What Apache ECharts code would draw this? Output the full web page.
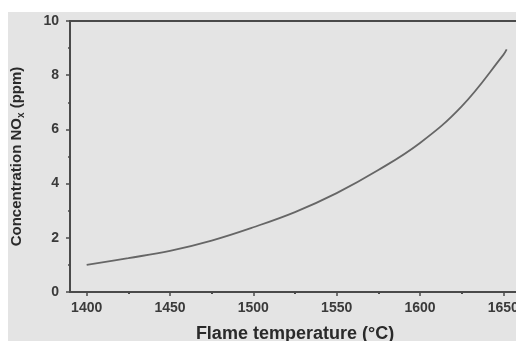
<!DOCTYPE html>
<html><head><meta charset="utf-8">
<script src="https://cdn.jsdelivr.net/npm/echarts@6/dist/echarts.min.js"></script>
<style>html,body{margin:0;padding:0;background:#fff}#c{width:516px;height:341px}</style>
</head><body><div id="c"></div>
<script>
const temperatures = [1400, 1425, 1450, 1475, 1500, 1525, 1550, 1575, 1600, 1625, 1650, 1652];
const noxPpm = [1.0, 1.25, 1.52, 1.9, 2.39, 2.95, 3.65, 4.5, 5.5, 6.85, 8.75, 8.95];
const xTickLabels = [1400, 1450, 1500, 1550, 1600, 1650];
const xMinorTicks = [1425, 1475, 1525, 1575, 1625];
const yTickLabels = [0, 2, 4, 6, 8, 10];

const chart = echarts.init(document.getElementById('c'), null, {renderer: 'canvas'});
const axisCol = '#4a4a4a';
const lblFont = {fontFamily: 'Liberation Sans', fontSize: 14, fontWeight: 'bold', color: '#3a3a3a'};
chart.setOption({
  backgroundColor: '#fff',
  animation: false,
  graphic: [{type: 'rect', left: 8, top: 12, shape: {width: 508, height: 329}, style: {fill: '#e4e4e4'}, z: -10, silent: true}],
  grid: {left: 70, right: -4, top: 21, bottom: 49, outerBoundsMode: 'none', containLabel: false,
    show: true, borderColor: axisCol, borderWidth: 2, backgroundColor: 'transparent'},
  xAxis: [{
    type: 'value', min: 1390, max: 1660, interval: 10,
    name: 'Flame temperature (°C)', nameLocation: 'middle', nameGap: 33,
    nameTextStyle: {fontFamily: 'Liberation Sans', fontSize: 18, fontWeight: 'bold', color: '#2a2a2a', verticalAlign: 'top'},
    axisLine: {show: true, onZero: false, lineStyle: {color: axisCol, width: 2}},
    axisTick: {show: true, length: 4, lineStyle: {color: axisCol, width: 1.5}, customValues: xTickLabels},
    axisLabel: Object.assign({margin: 9, customValues: xTickLabels, formatter: v => String(v)}, lblFont),
    splitLine: {show: false}
  }, {
    type: 'value', min: 1390, max: 1660, position: 'bottom', offset: 0,
    axisLine: {show: false, onZero: false},
    axisTick: {show: true, length: 2, lineStyle: {color: axisCol, width: 2}, customValues: xMinorTicks},
    axisLabel: {show: false, customValues: xMinorTicks},
    splitLine: {show: false}
  }],
  yAxis: {
    type: 'value', min: 0, max: 10, interval: 2,
    name: '{a|Concentration NO}{s|x}{a| (ppm)}', nameLocation: 'middle', nameGap: 44, nameRotate: 90,
    nameTextStyle: {rich: {
      a: {fontFamily: 'Liberation Sans', fontSize: 15, fontWeight: 'bold', color: '#2a2a2a'},
      s: {fontFamily: 'Liberation Sans', fontSize: 10, fontWeight: 'bold', color: '#2a2a2a', verticalAlign: 'bottom', padding: [8, 0, 0, 0]}
    }},
    axisLine: {show: true, lineStyle: {color: axisCol, width: 2}},
    axisTick: {show: true, length: 4, lineStyle: {color: axisCol, width: 1.5}},
    minorTick: {show: true, splitNumber: 2, length: 2, lineStyle: {color: axisCol, width: 1.5}},
    axisLabel: Object.assign({margin: 11}, lblFont),
    splitLine: {show: false}
  },
  series: [{
    type: 'line', smooth: 0.4, symbol: 'none',
    data: temperatures.map((t, i) => [t, noxPpm[i]]),
    lineStyle: {color: '#666', width: 1.8}
  }]
});
</script></body></html>
